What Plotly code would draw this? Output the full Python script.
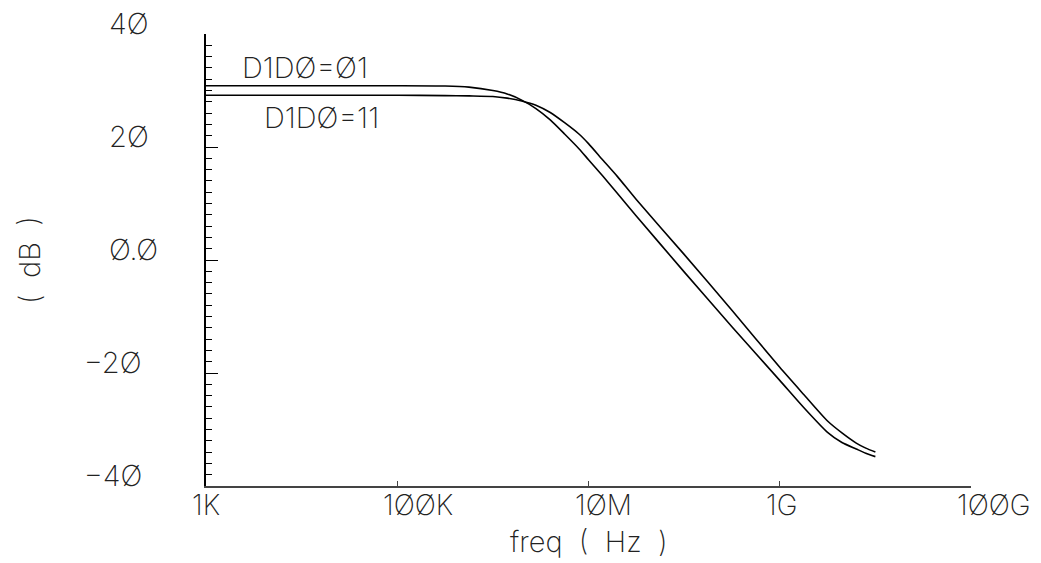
import math
import plotly.graph_objects as go

# Frequency sweep points (Hz)
freq = [1e3, 1e4, 1e5, 3.16e5, 5.62e5, 1e6, 1.41e6, 2e6, 2.82e6, 3.98e6,
        5.62e6, 7.94e6, 1e7, 1.41e7, 2e7, 3.16e7, 1e8, 3.16e8, 1e9, 1.78e9,
        3.16e9, 4.47e9, 6.31e9, 7.94e9, 1e10]

# Gain (dB) for D1D0=01
db_01 = [30.85, 30.85, 30.85, 30.8, 30.6, 30.0, 29.4, 28.3, 26.8, 24.8,
         22.3, 19.7, 17.75, 14.85, 11.8, 7.8, -2.1, -11.8, -21.3, -26.1,
         -30.5, -32.3, -33.45, -34.2, -34.8]

# Gain (dB) for D1D0=11
db_11 = [29.15, 29.15, 29.15, 29.1, 29.05, 28.95, 28.65, 28.15, 27.4, 26.1,
         24.3, 22.3, 20.6, 17.7, 14.8, 10.7, 1.0, -8.9, -19.0, -23.8,
         -28.5, -30.6, -32.4, -33.3, -34.0]

series_names = ["D1DØ=Ø1", "D1DØ=11"]

y_tick_vals = [40, 20, 0, -20, -40]
y_tick_text = ["4Ø", "2Ø", "Ø.Ø", "−2Ø", "−4Ø"]
x_tick_vals = [1e3, 1e5, 1e7, 1e9, 1e11]
x_tick_text = ["1K", "1ØØK", "1ØM", "1G", "1ØØG"]

x_title = "freq ( Hz )"
y_title = "( dB )"

FONT = dict(family="Inter", size=29, color="#222", weight=200)
XTICK_FONT = dict(family="Inter", size=28, color="#222", weight=200)
TITLE_FONT = dict(family="Inter", size=29, color="#222", weight=200)

fig = go.Figure()
for ys, name in zip([db_01, db_11], series_names):
    fig.add_trace(go.Scatter(x=freq, y=ys, mode="lines", name=name,
                             line=dict(color="black", width=1.6,
                                       shape="spline", smoothing=0.6),
                             showlegend=False, hoverinfo="skip"))

annotations = []
# y tick labels (left aligned, sitting just above the tick)
for v, t in zip(y_tick_vals, y_tick_text):
    annotations.append(dict(x=-0.1295, xref="paper", y=v, yref="y",
                            text=t, showarrow=False, xanchor="left",
                            yanchor="middle", yshift=11,
                            xshift=-25 if t.startswith("−") else 0,
                            font=FONT))
# x tick labels (first glyph centred on the tick)
for v, t in zip(x_tick_vals, x_tick_text):
    annotations.append(dict(x=math.log10(v), xref="x", y=0, yref="paper",
                            text=t, showarrow=False, xanchor="left",
                            yanchor="top", xshift=-15, yshift=-1,
                            borderpad=0, font=XTICK_FONT))
# curve labels
annotations.append(dict(x=4.036, y=34.07, xref="x", yref="y",
                        text=series_names[0], showarrow=False,
                        xanchor="center", yanchor="middle", font=FONT))
annotations.append(dict(x=4.208, y=25.31, xref="x", yref="y",
                        text=series_names[1], showarrow=False,
                        xanchor="center", yanchor="middle", font=FONT))
# axis titles
annotations.append(dict(x=0.5, xref="paper", y=0, yref="paper",
                        text=x_title.replace(" ", "\u00a0\u00a0"),
                        showarrow=False, xanchor="center", borderpad=0,
                        yanchor="top", yshift=-37, font=TITLE_FONT))
annotations.append(dict(x=-0.2315, xref="paper", y=0.5, yref="paper",
                        text=y_title.replace(" ", "\u00a0\u00a0"),
                        showarrow=False, xanchor="center",
                        yanchor="middle", textangle=-90, font=TITLE_FONT))

fig.update_layout(
    width=1041, height=563,
    margin=dict(l=206, r=70, t=34, b=77),
    paper_bgcolor="white", plot_bgcolor="white",
    annotations=annotations,
    xaxis=dict(type="log", range=[3, 11], showline=True, linecolor="#444",
               linewidth=1.5, ticks="inside", ticklen=5, tickwidth=1.2,
               tickcolor="#444", tickvals=[1e5, 1e7, 1e9],
               showticklabels=False, showgrid=False, zeroline=False),
    yaxis=dict(range=[-40, 40], showline=True, linecolor="black",
               linewidth=2, ticks="inside", tick0=0, dtick=20, ticklen=12,
               tickwidth=1.2, tickcolor="black", showticklabels=False,
               showgrid=False, zeroline=False,
               minor=dict(ticks="inside", dtick=2, ticklen=6, tickwidth=1.2,
                          tickcolor="black")),
)

fig.write_html("out.html")
